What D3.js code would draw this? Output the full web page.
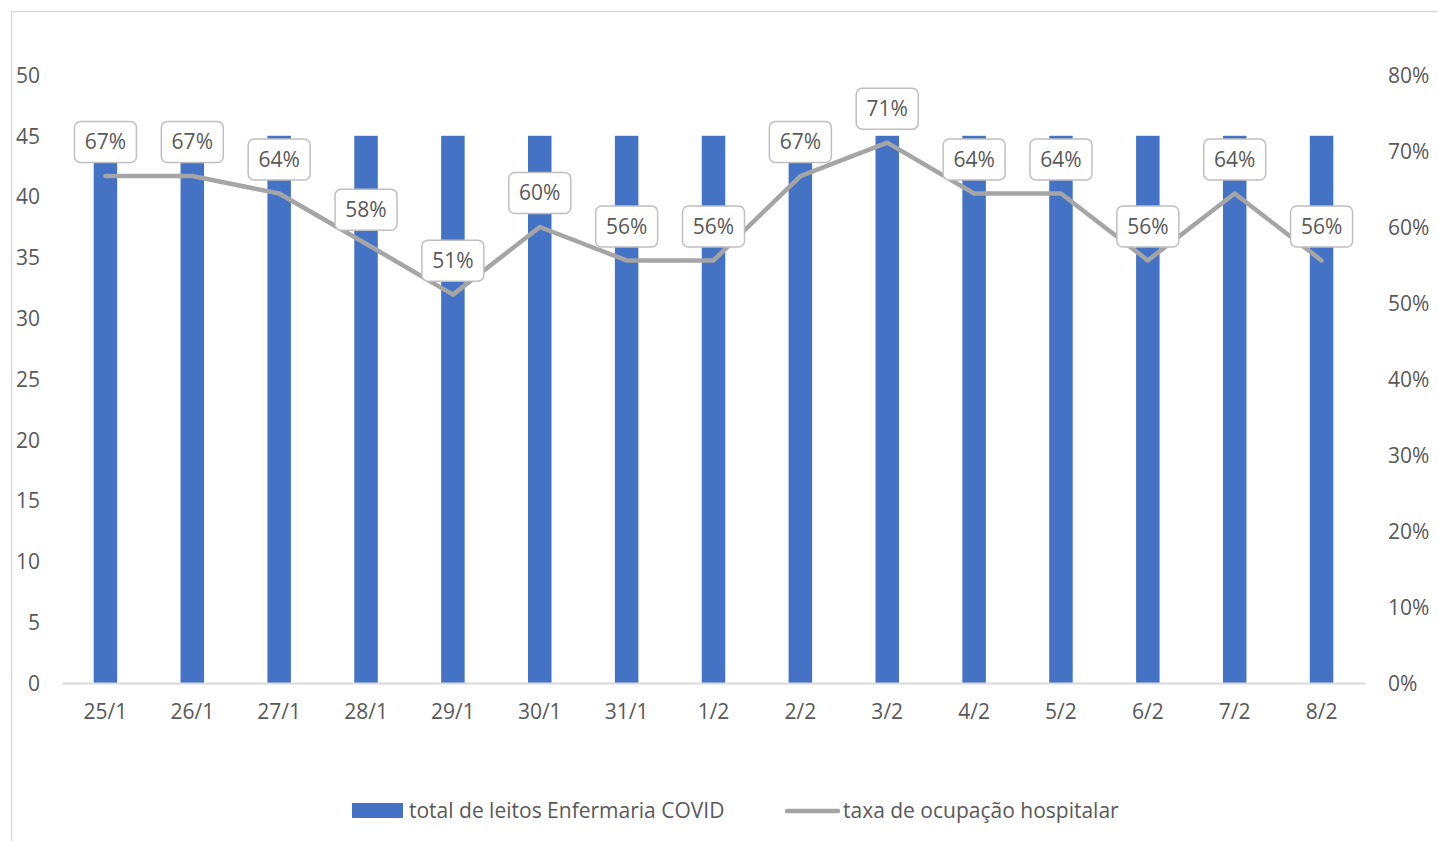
<!DOCTYPE html>
<html>
<head>
<meta charset="utf-8">
<script src="https://cdn.jsdelivr.net/npm/d3@7"></script>
<style>
  body { margin: 0; background: #fff; }
  svg text { font-family: "Open Sans", "Noto Sans", sans-serif; fill: #595959; }
</style>
</head>
<body>
<svg id="chart"></svg>
<script>
'use strict';
// dias
const dates = ['25/1', '26/1', '27/1', '28/1', '29/1', '30/1', '31/1', '1/2', '2/2', '3/2', '4/2', '5/2', '6/2', '7/2', '8/2'];
// total de leitos Enfermaria COVID
const totalBeds = [45, 45, 45, 45, 45, 45, 45, 45, 45, 45, 45, 45, 45, 45, 45];
// taxa de ocupação hospitalar
const occupancy = [0.667, 0.667, 0.644, 0.578, 0.511, 0.600, 0.556, 0.556, 0.667, 0.711, 0.644, 0.644, 0.556, 0.644, 0.556];
const leftTicks = [0, 5, 10, 15, 20, 25, 30, 35, 40, 45, 50];
const rightTicks = [0, 0.1, 0.2, 0.3, 0.4, 0.5, 0.6, 0.7, 0.8];
const seriesNames = ['total de leitos Enfermaria COVID', 'taxa de ocupação hospitalar'];

const W = 1438, H = 841;
const margin = { top: 75, right: 73, bottom: 158, left: 62 };
const width = W - margin.left - margin.right;
const height = H - margin.top - margin.bottom;
const blue = '#4472c4', gray = '#a5a5a5';
const fs = '21px';

const svg = d3.select('#chart').attr('width', W).attr('height', H);

// chart frame
svg.append('rect')
  .attr('x', 11.5).attr('y', 11.5)
  .attr('width', W + 20).attr('height', H + 20)
  .attr('fill', '#fff').attr('stroke', '#d9d9d9').attr('stroke-width', 1.5);

const x = d3.scaleBand().domain(dates).range([0, width]);
const yL = d3.scaleLinear().domain([0, 50]).range([height, 0]);
const yR = d3.scaleLinear().domain([0, 0.8]).range([height, 0]);

const g = svg.append('g').attr('transform', `translate(${margin.left},${margin.top})`);

// left axis
const axL = g.append('g')
  .call(d3.axisLeft(yL).tickValues(leftTicks).tickSize(0).tickPadding(22));
axL.select('.domain').remove();
axL.selectAll('text').style('font-size', fs).attr('dy', '0.35em');

// right axis
const axR = g.append('g')
  .attr('transform', `translate(${width},0)`)
  .call(d3.axisRight(yR).tickValues(rightTicks).tickFormat(d3.format('.0%')).tickSize(0).tickPadding(23));
axR.select('.domain').remove();
axR.selectAll('text').style('font-size', fs).attr('dy', '0.35em');

// bars
const barW = 23.5;
g.selectAll('rect.bar')
  .data(dates)
  .join('rect')
  .attr('class', 'bar')
  .attr('x', (d) => x(d) + x.bandwidth() / 2 - barW / 2)
  .attr('y', (d, i) => yL(totalBeds[i]))
  .attr('width', barW)
  .attr('height', (d, i) => height - yL(totalBeds[i]))
  .attr('fill', blue);

// x axis
const axB = g.append('g')
  .attr('transform', `translate(0,${height})`)
  .call(d3.axisBottom(x).tickSize(0).tickPadding(21));
axB.select('.domain').attr('stroke', '#d9d9d9').attr('stroke-width', 2);
axB.selectAll('text').style('font-size', fs);

// line
const line = d3.line()
  .x((d, i) => x(dates[i]) + x.bandwidth() / 2)
  .y((d) => yR(d));
g.append('path')
  .datum(occupancy)
  .attr('fill', 'none')
  .attr('stroke', gray)
  .attr('stroke-width', 4.5)
  .attr('stroke-linejoin', 'round')
  .attr('stroke-linecap', 'round')
  .attr('d', line);

// data labels
const lab = g.selectAll('g.lab')
  .data(occupancy)
  .join('g')
  .attr('class', 'lab')
  .attr('transform', (d, i) => `translate(${x(dates[i]) + x.bandwidth() / 2},${yR(d) - 34})`);
lab.append('rect')
  .attr('x', -31).attr('y', -20.5)
  .attr('width', 62).attr('height', 41)
  .attr('rx', 6)
  .attr('fill', '#fff').attr('stroke', '#bfbfbf').attr('stroke-width', 1.5);
lab.append('text')
  .attr('text-anchor', 'middle')
  .attr('dy', '0.35em')
  .style('font-size', fs)
  .text((d) => d3.format('.0%')(d));

// legend
const leg = svg.append('g').attr('transform', 'translate(0,811)');
leg.append('rect').attr('x', 352).attr('y', -8).attr('width', 51).attr('height', 15).attr('fill', blue);
leg.append('text').attr('x', 409).attr('dy', '0.35em').style('font-size', fs).text(seriesNames[0]);
leg.append('line').attr('x1', 787).attr('x2', 838).attr('y1', 0).attr('y2', 0)
  .attr('stroke', gray).attr('stroke-width', 4.5).attr('stroke-linecap', 'round');
leg.append('text').attr('x', 843).attr('dy', '0.35em').style('font-size', fs).text(seriesNames[1]);
</script>
</body>
</html>
